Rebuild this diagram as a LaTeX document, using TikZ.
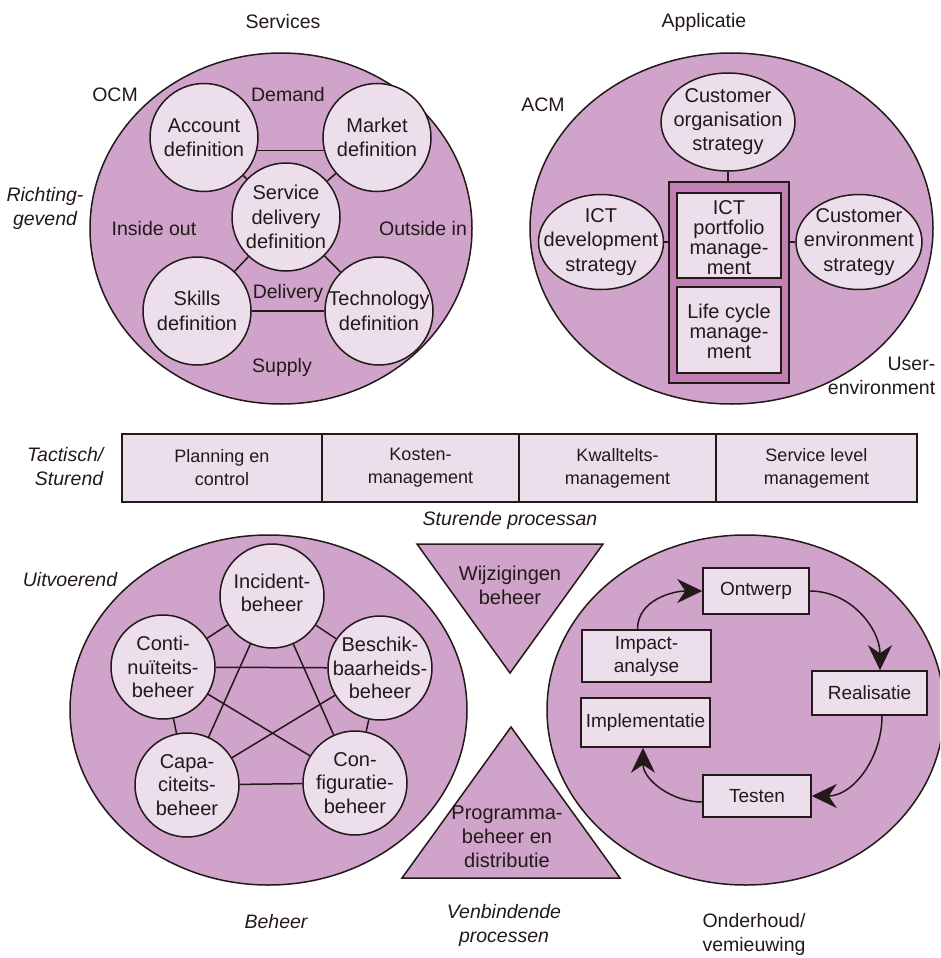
\documentclass[tikz,border=0pt]{standalone}
\usepackage{fontspec}
\setmainfont{Liberation Sans}
\usetikzlibrary{shapes.geometric,arrows.meta}
\definecolor{bgp}{RGB}{208,163,203}
\definecolor{ltp}{RGB}{237,222,236}
\definecolor{mdp}{RGB}{193,127,180}
\definecolor{ink}{RGB}{35,25,25}
\begin{document}
\begin{tikzpicture}[x=1pt,y=-1pt,line width=1.5pt,
  every node/.style={text=ink},
  bigell/.style={ellipse,draw=ink,fill=bgp,inner sep=0pt},
  circ/.style={circle,draw=ink,fill=ltp,minimum size=108pt,inner sep=0pt},
  circb/.style={circle,draw=ink,fill=ltp,minimum size=104pt,inner sep=0pt},
  ell/.style={ellipse,draw=ink,fill=ltp,inner sep=0pt},
  rbox/.style={rectangle,draw=ink,fill=ltp,inner sep=0pt,align=center,font=\fontsize{19}{23}\selectfont},
  barbox/.style={rectangle,draw=ink,fill=ltp,inner sep=0pt,minimum height=68pt,align=center,font=\fontsize{18}{23}\selectfont},
  lbl/.style={align=center,inner sep=0pt,font=\fontsize{20}{24.5}\selectfont},
  lblb/.style={align=center,inner sep=0pt,font=\fontsize{20}{23.5}\selectfont},
  tight/.style={align=center,inner sep=0pt,font=\fontsize{20}{19.8}\selectfont},
  plain/.style={align=center,inner sep=0pt,font=\fontsize{19.5}{24}\selectfont},
  ital/.style={align=center,inner sep=0pt,font=\fontsize{19.5}{24}\selectfont\itshape},
  link/.style={draw=ink,line width=1.5pt},
  flow/.style={draw=ink,line width=1.5pt,-{Stealth[length=25pt,width=24pt,inset=8pt]}}
]
\useasboundingbox (0,0) rectangle (940,958);
\clip (0,0) rectangle (940,958);

% ---------- titles ----------
\node[plain] (t-serv) at (283,22) {Services};
\node[plain] (t-appl) at (704,22) {Applicatie};

% ---------- top-left: OCM ----------
\node[bigell,minimum width=382pt,minimum height=351pt] (ocm) at (281,228.5) {};
\node[plain] (ocm-l) at (115,95) {OCM};
\node[ital] (richt) at (45,208.5) {Richting-\\gevend};
\node[plain] (demand) at (288,95) {Demand};
\node[plain] (insout) at (154,229) {Inside out};
\node[plain] (outin) at (423,229) {Outside in};
\node[plain] (deliv) at (288,293) {Delivery};
\node[plain] (supply) at (282,367) {Supply};

\node[circ] (acc) at (204,137.5) {};
\node[circ] (mkt) at (377,137.5) {};
\node[circ] (sdd) at (286,217) {};
\node[circ] (skl) at (197,311) {};
\node[circ] (tec) at (379,311) {};
\node[lbl] (acc-t) at (acc) {Account\\definition};
\node[lbl] (mkt-t) at (mkt) {Market\\definition};
\node[lbl] (sdd-t) at (sdd) {Service\\delivery\\definition};
\node[lbl] (skl-t) at (skl) {Skills\\definition};
\node[lbl] (tec-t) at (tec) {Technology\\definition};
\draw[link] (acc.-14) -- (mkt.194);
\draw[link] (acc) -- (sdd);
\draw[link] (mkt) -- (sdd);
\draw[link] (skl) -- (sdd);
\draw[link] (tec) -- (sdd);
\draw[link] (skl) -- (tec);

% ---------- top-right: ACM ----------
\node[bigell,minimum width=403pt,minimum height=351pt] (acm) at (731.5,228.5) {};
\node[plain] (acm-l) at (543,105) {ACM};
\node[plain,align=right,anchor=east] (user) at (936,375.5) {User-\\environment};

\node[rectangle,draw=ink,fill=mdp,minimum width=120pt,minimum height=201pt,inner sep=0pt] (port) at (729,282.5) {};
\node[rectangle,draw=ink,fill=ltp,minimum width=104pt,minimum height=85pt,inner sep=0pt] (ictp) at (729,235.5) {};
\node[rectangle,draw=ink,fill=ltp,minimum width=104pt,minimum height=86pt,inner sep=0pt] (lcm) at (729,330) {};
\node[tight] (ictp-t) at (729,237.5) {ICT\\portfolio\\manage-\\ment};
\node[tight] (lcm-t) at (729,331.5) {Life cycle\\manage-\\ment};

\node[ell,minimum width=134pt,minimum height=98pt] (co) at (728,122) {};
\node[ell,minimum width=125pt,minimum height=95pt] (dev) at (601,242) {};
\node[ell,minimum width=126pt,minimum height=95pt] (env) at (859,242) {};
\node[lbl,font=\fontsize{20}{24}\selectfont] (co-t) at (co) {Customer\\organisation\\strategy};
\node[lbl,font=\fontsize{20}{24.5}\selectfont] (dev-t) at (dev) {ICT\\development\\strategy};
\node[lbl,font=\fontsize{20}{24.5}\selectfont] (env-t) at (env) {Customer\\environment\\strategy};
\draw[link] (co.south) -- (co.south |- port.north);
\draw[link] (dev.east) -- (dev.east -| port.west);
\draw[link] (env.west) -- (env.west -| port.east);

% ---------- middle bar ----------
\node[ital,align=right,anchor=east] (tact) at (104,466.5) {Tactisch/\\Sturend};
\node[barbox,minimum width=200pt] (b1) at (222,468) {Planning en\\control};
\node[barbox,minimum width=197pt] (b2) at (420.5,468) {Kosten-\\management};
\node[barbox,minimum width=197pt] (b3) at (617.5,468) {Kwalltelts-\\management};
\node[barbox,minimum width=201pt] (b4) at (816.5,468) {Service level\\management};
\node[ital] (sturp) at (510,520) {Sturende processan};

% ---------- bottom-left: Beheer ----------
\node[bigell,minimum width=397pt,minimum height=350pt] (beh) at (268.5,710) {};
\node[ital] (uitv) at (70,580) {Uitvoerend};
\node[circb] (inc) at (272,596) {};
\node[circb] (cnt) at (163,667) {};
\node[circb] (bes) at (380,668) {};
\node[circb] (cap) at (187,785) {};
\node[circb] (cfg) at (355,783) {};
\node[lblb] (inc-t) at (272,593) {Incident-\\beheer};
\node[lblb] (cnt-t) at (cnt) {Conti-\\nuïteits-\\beheer};
\node[lblb] (bes-t) at (bes) {Beschik-\\baarheids-\\beheer};
\node[lblb] (cap-t) at (cap) {Capa-\\citeits-\\beheer};
\node[lblb] (cfg-t) at (cfg) {Con-\\figuratie-\\beheer};
\draw[link] (inc) -- (cnt);
\draw[link] (inc) -- (bes);
\draw[link] (cnt) -- (cap);
\draw[link] (bes) -- (cfg);
\draw[link] (cap) -- (cfg);
\draw[link] (cnt) -- (bes);
\draw[link] (inc) -- (cap);
\draw[link] (inc) -- (cfg);
\draw[link] (cnt) -- (cfg);
\draw[link] (bes) -- (cap);

% ---------- triangles ----------
\filldraw[fill=bgp,draw=ink] (417,544) -- (603,544) -- (510,673) -- cycle;
\filldraw[fill=bgp,draw=ink] (511,727) -- (620,878) -- (402,878) -- cycle;
\node[plain,font=\fontsize{20}{24}\selectfont] (wijz) at (510,585) {Wijzigingen\\beheer};
\node[plain,font=\fontsize{20}{24}\selectfont] (prog) at (507,837) {Programma-\\beheer en\\distributie};

% ---------- bottom-right: Onderhoud ----------
\node[bigell,minimum width=397pt,minimum height=350pt] (ond) at (745.5,710) {};
\node[rbox,minimum width=106pt,minimum height=46pt] (ont) at (756,591) {Ontwerp};
\node[rbox,minimum width=129pt,minimum height=52pt] (imp) at (646.5,656) {Impact-\\analyse};
\node[rbox,minimum width=115pt,minimum height=44pt] (rea) at (869.5,693) {Realisatie};
\node[rbox,minimum width=129pt,minimum height=49pt] (impl) at (645.5,722.5) {Implementatie};
\node[rbox,minimum width=108pt,minimum height=42pt] (tes) at (757,796) {Testen};
\draw[flow] ([xshift=-9pt]imp.north) to[out=90,in=180] (ont.west);
\draw[flow] (ont.east) to[out=0,in=90] ([xshift=10.5pt]rea.north);
\draw[flow] ([xshift=12.5pt]rea.south) to[out=-90,in=0] (tes.east);
\draw[flow] ([yshift=-6pt]tes.west) to[out=180,in=-90] ([xshift=-2.5pt]impl.south);

% ---------- bottom labels ----------
\node[ital] (beheer) at (276,922) {Beheer};
\node[ital] (verb) at (504,925) {Venbindende\\processen};
\node[plain] (onderh) at (754,934.5) {Onderhoud/\\vemieuwing};
\end{tikzpicture}
\end{document}
